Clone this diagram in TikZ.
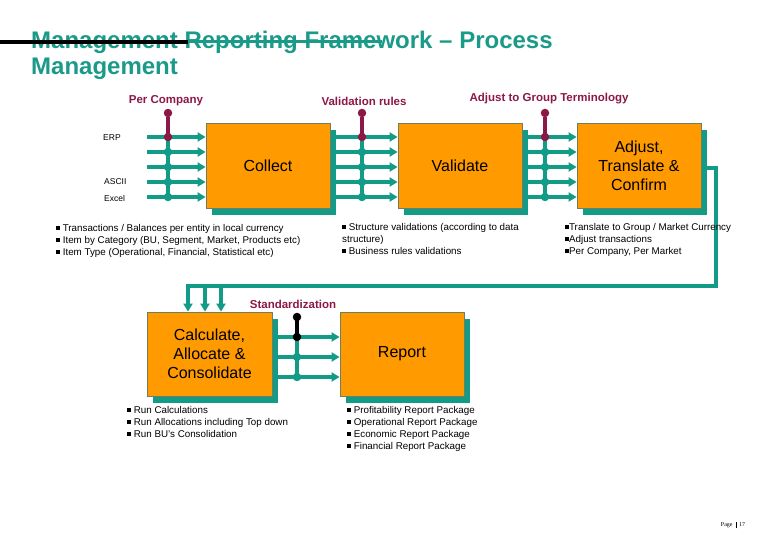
\documentclass[tikz,border=0pt]{standalone}
\usepackage{fontspec}
\setmainfont{Liberation Sans}
\newfontfamily\pagefont{Liberation Serif}
\usetikzlibrary{arrows.meta,calc,backgrounds}
\definecolor{tealc}{HTML}{129C87}
\definecolor{orangec}{HTML}{FF9A00}
\definecolor{maroonc}{HTML}{8C1848}
\definecolor{borderc}{HTML}{6E7F5E}
\definecolor{titlec}{HTML}{1A9A88}
\newcommand\sqb{\rule[0.12em]{0.4em}{0.4em}}
\begin{document}
\begin{tikzpicture}[x=1pt,y=-1pt,
  box/.style={fill=orangec, draw=borderc, line width=0.8pt, minimum width=124pt,
    minimum height=85pt, inner sep=0pt, align=center, font=\fontsize{16}{19}\selectfont},
  shadowbox/.style={fill=tealc},
  flow/.style={draw=tealc, line width=3.5pt, -{Triangle[length=8pt,width=9pt]}},
  bus/.style={draw=tealc, line width=3.5pt},
  rulebar/.style={draw=maroonc, line width=3.5pt},
  blackbar/.style={draw=black, line width=3.5pt},
  dot/.style={circle, fill=tealc, inner sep=0pt, minimum size=8.5pt},
  mdot/.style={dot, fill=maroonc},
  bdot/.style={dot, fill=black},
  tag/.style={text=maroonc, font=\fontsize{11.5}{13}\selectfont\bfseries, inner sep=0pt},
  src/.style={anchor=west, font=\fontsize{8.5}{10}\selectfont, inner sep=0pt},
  notes/.style={anchor=north west, align=left, font=\fontsize{9.8}{12}\selectfont, inner sep=0pt},
  titletext/.style={anchor=base west, text=titlec, font=\fontsize{24}{27}\selectfont\bfseries, inner sep=0pt}
]
\useasboundingbox (0,0) rectangle (780,540);

% ---- title ----
\node[titletext] (title1) at (31,49) {Management Reporting Framework -- Process};
\node[titletext] (title2) at (31,75) {Management};
\draw[black, line width=4.5pt] (0,42) -- (188,42);
\draw[titlec, line width=3pt] (188,42) -- (382,42);

% ---- boxes ----
\node[box] (collect) at (268,165.5) {Collect};
\node[box] (validate) at (460,165.5) {Validate};
\node[box] (adjust) at (639,165.5) {Adjust,\\Translate \&\\Confirm};
\node[box, minimum width=125pt, minimum height=84pt] (calc) at (209.5,354) {Calculate,\\Allocate \&\\Consolidate};
\node[box, minimum height=84pt] (report) at (402,354) {Report};

\begin{scope}[on background layer]
  \foreach \b in {collect,validate,adjust,calc,report}
    \fill[shadowbox] ($(\b.south west)+(6,7)$) rectangle ($(\b.north east)+(6,7)$);
\end{scope}

% ---- labels ----
\node[tag] (percompany) at (166,101) {Per Company};
\node[tag] (valrules) at (364,101) {Validation rules};
\node[tag] (adjterm) at (549,99) {Adjust to Group Terminology};
\node[tag] (standard) at (293,304) {Standardization};

\node[src] (erp) at (103,138) {ERP};
\node[src] (ascii) at (104,182) {ASCII};
\node[src] (excel) at (104,198) {Excel};

% ---- input rows ----
\foreach \i/\y in {1/137,2/152,3/167,4/182,5/197}{
  \coordinate (in\i) at (147,\y);
  \draw[flow] (in\i) -- (collect.west |- in\i);
  \draw[flow] ($(collect.east |- in\i)+(6,0)$) -- (validate.west |- in\i);
  \draw[flow] ($(validate.east |- in\i)+(6,0)$) -- (adjust.west |- in\i);
}

% ---- buses ----
\foreach \n/\x in {c/168,v/362,a/545}{
  \node[mdot] (\n0) at (\x,113) {};
  \draw[bus] (\x,137) -- (\x,197);
  \draw[rulebar] (\n0) -- (\x,137);
  \node[mdot] (\n1) at (\x,137) {};
  \foreach \i/\y in {2/152,3/167,4/182,5/197}
    \node[dot] (\n\i) at (\x,\y) {};
}

% ---- loop back ----
\coordinate (lp1) at (716,168);
\coordinate (lp2) at (716,286);
\coordinate (drop1) at (188,286);
\coordinate (drop2) at (205,286);
\coordinate (drop3) at (221,286);
\draw[flow] ($(adjust.east |- lp1)+(6,0)$) -- (lp1) -- (lp2) -- (drop1) -- (drop1 |- calc.north);
\draw[flow] (drop2) -- (drop2 |- calc.north);
\draw[flow] (drop3) -- (drop3 |- calc.north);

% ---- calc -> report ----
\coordinate (rb0) at (297,317);
\foreach \i/\y in {1/337,2/357,3/377}{
  \coordinate (rr\i) at (297,\y);
  \draw[flow] ($(calc.east |- rr\i)+(5,0)$) -- (report.west |- rr\i);
}
\draw[bus] (rr1) -- (rr3);
\draw[blackbar] (rb0) -- (rr1);
\node[bdot] (s0) at (rb0) {};
\node[bdot] (s1) at (rr1) {};
\node[dot] (s2) at (rr2) {};
\node[dot] (s3) at (rr3) {};

% ---- notes ----
\node[notes] (ncollect) at (56,224) {\sqb\ Transactions / Balances per entity in local currency\\
\sqb\ Item by Category (BU, Segment, Market, Products etc)\\
\sqb\ Item Type (Operational, Financial, Statistical etc)};
\node[notes] (nvalidate) at (342,223) {\sqb\ Structure validations (according to data\\
structure)\\
\sqb\ Business rules validations};
\node[notes] (nadjust) at (565,223) {\sqb Translate to Group / Market Currency\\
\sqb Adjust transactions\\
\sqb Per Company, Per Market};
\node[notes] (ncalc) at (127,406) {\sqb\ Run Calculations\\
\sqb\ Run Allocations including Top down\\
\sqb\ Run BU's Consolidation};
\node[notes] (nreport) at (347,406) {\sqb\ Profitability Report Package\\
\sqb\ Operational Report Package\\
\sqb\ Economic Report Package\\
\sqb\ Financial Report Package};

% ---- page ----
\node[inner sep=0pt, font=\pagefont\fontsize{6}{7}\selectfont] (page) at (733,525) {Page\enspace\rule[-0.25em]{0.4pt}{1.1em}\enspace 17};
\end{tikzpicture}
\end{document}
